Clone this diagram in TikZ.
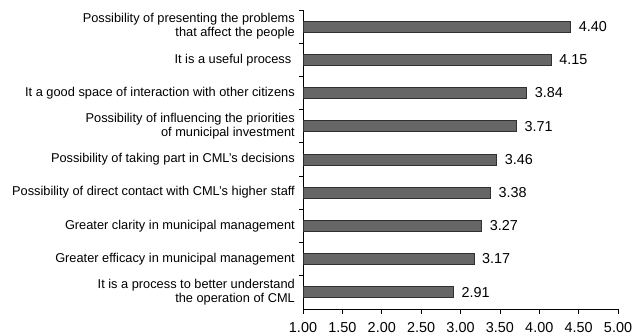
\documentclass[tikz,border=0pt]{standalone}
\usepackage{fontspec}
\setmainfont{Liberation Sans}
\definecolor{barfill}{HTML}{666666}
\definecolor{barline}{HTML}{303030}
\begin{document}
\begin{tikzpicture}[x=1pt,y=-1pt,
  bar/.style={draw=barline,fill=barfill,line width=0.6pt},
  cat/.style={anchor=east,align=right,font=\fontsize{12.8}{14}\selectfont,inner sep=0pt},
  val/.style={anchor=west,font=\fontsize{14.4}{16}\selectfont,inner sep=0pt},
  tlab/.style={anchor=center,font=\fontsize{14.4}{16}\selectfont,inner sep=0pt},
  axis/.style={line width=0.7pt,black}]
\useasboundingbox (0,0) rectangle (636,335);
\def\xo{303}\def\sc{78.75}
% axes
\coordinate (top) at (\xo,10);
\coordinate (org) at (\xo,309);
\coordinate (xend) at (618,309);
\draw[axis] (top) -- (org) -- (xend);
% category ticks
\foreach \i in {0,...,8}{
  \pgfmathsetmacro{\yy}{10+33.2*\i}
  \draw[axis] (\xo-4,\yy) -- (\xo,\yy);
}
% x ticks
\foreach \v [count=\k from 0] in {1.00,1.50,2.00,2.50,3.00,3.50,4.00,4.50,5.00}{
  \pgfmathsetmacro{\xx}{\xo+\k*0.5*\sc}
  \draw[axis] (\xx,309) -- (\xx,314);
  \node[tlab] (t\k) at (\xx,327.5) {\v};
}
% bars
\foreach \val/\lab [count=\i from 0] in {
  4.40/{Possibility of presenting the problems\\that affect the people},
  4.15/{It is a useful process\ },
  3.84/{It a good space of interaction with other citizens},
  3.71/{Possibility of influencing the priorities\\of municipal investment},
  3.46/{Possibility of taking part in CML’s decisions},
  3.38/{Possibility of direct contact with CML’s higher staff},
  3.27/{Greater clarity in municipal management},
  3.17/{Greater efficacy in municipal management},
  2.91/{It is a process to better understand\ \\the operation of CML}}{
  \pgfmathsetmacro{\yc}{10+33.2*(\i+0.5)}
  \pgfmathsetmacro{\xe}{\xo+(\val-1)*\sc}
  \draw[bar] (\xo,\yc-5.5) rectangle (\xe,\yc+5.5);
  \coordinate (e\i) at (\xe,\yc);
  \node[val] (v\i) at ([xshift=8pt]e\i) {\val};
  \node[cat] (c\i) at (295,\yc) {\lab};
}
\end{tikzpicture}
\end{document}
